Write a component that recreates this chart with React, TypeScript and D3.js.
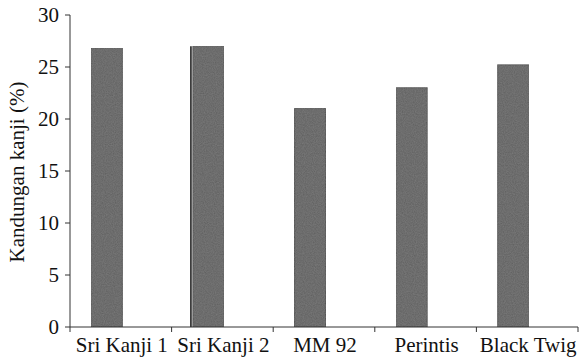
import React from "react";
import * as d3 from "d3";

const categories = ["Sri Kanji 1", "Sri Kanji 2", "MM 92", "Perintis", "Black Twig"];
const values = [26.8, 27.0, 21.0, 23.0, 25.2];
const yTicks = [0, 5, 10, 15, 20, 25, 30];
const yTitle = "Kandungan kanji (%)";

export default function App() {
  const W = 585, H = 359;
  const left = 70, right = 578, top = 15, bottom = 327;
  const x = d3.scaleBand<string>().domain(categories).range([left, right]).padding(0);
  const y = d3.scaleLinear().domain([0, 30]).range([bottom, top]);
  const bw = x.bandwidth();
  const barOffset = bw * 0.21;
  const barW = bw * 0.305;
  const font = "Liberation Serif";
  const axisColor = "#333";
  const boundaries = [...categories.map((c) => x(c) as number), right];
  return (
    <svg width={W} height={H} style={{ position: "absolute", left: 0, top: 0, background: "#fff" }}>
      <defs>
        <filter id="grain" x="0" y="0" width="1" height="1">
          <feTurbulence type="fractalNoise" baseFrequency="0.9" numOctaves="2" seed="3" result="n" />
          <feColorMatrix in="n" type="matrix" values="0 0 0 0 0.35  0 0 0 0 0.35  0 0 0 0 0.35  0 0 0 0.35 0" result="g" />
          <feComposite in="g" in2="SourceGraphic" operator="in" result="gi" />
          <feMerge>
            <feMergeNode in="SourceGraphic" />
            <feMergeNode in="gi" />
          </feMerge>
        </filter>
      </defs>
      {categories.map((c, i) => {
        const bx = (x(c) as number) + barOffset;
        const by = y(values[i]);
        return (
          <g key={c}>
            <rect x={bx} y={by} width={barW} height={bottom - by} fill="#5e5e5e" stroke="#4a4a4a" strokeWidth={1} filter="url(#grain)" />
          </g>
        );
      })}
      <line x1={(x(categories[1]) as number) + barOffset - 2} x2={(x(categories[1]) as number) + barOffset - 2} y1={y(values[1])} y2={bottom} stroke="#111" strokeWidth={1.5} />
      {/* y axis */}
      <line x1={left} x2={left} y1={top} y2={bottom} stroke={axisColor} strokeWidth={1} />
      {yTicks.map((t) => (
        <g key={t}>
          <line x1={left - 5} x2={left} y1={y(t)} y2={y(t)} stroke={axisColor} strokeWidth={1} />
          <text x={left - 11} y={y(t)} dy="0.35em" textAnchor="end" style={{ fontFamily: font, fontSize: "21px" }} fill="#111">
            {t}
          </text>
        </g>
      ))}
      {/* x axis */}
      <line x1={left} x2={right} y1={bottom} y2={bottom} stroke={axisColor} strokeWidth={1} />
      {boundaries.map((b, i) => (
        <line key={i} x1={b} x2={b} y1={bottom} y2={bottom + 5} stroke={axisColor} strokeWidth={1} />
      ))}
      {categories.map((c) => (
        <text key={c} x={(x(c) as number) + bw / 2 + 1} y={352} textAnchor="middle" style={{ fontFamily: font, fontSize: "21px" }} fill="#111">
          {c}
        </text>
      ))}
      <text transform={`translate(24, 172) rotate(-90)`} textAnchor="middle" style={{ fontFamily: font, fontSize: "21px" }} fill="#111">
        {yTitle}
      </text>
    </svg>
  );
}
